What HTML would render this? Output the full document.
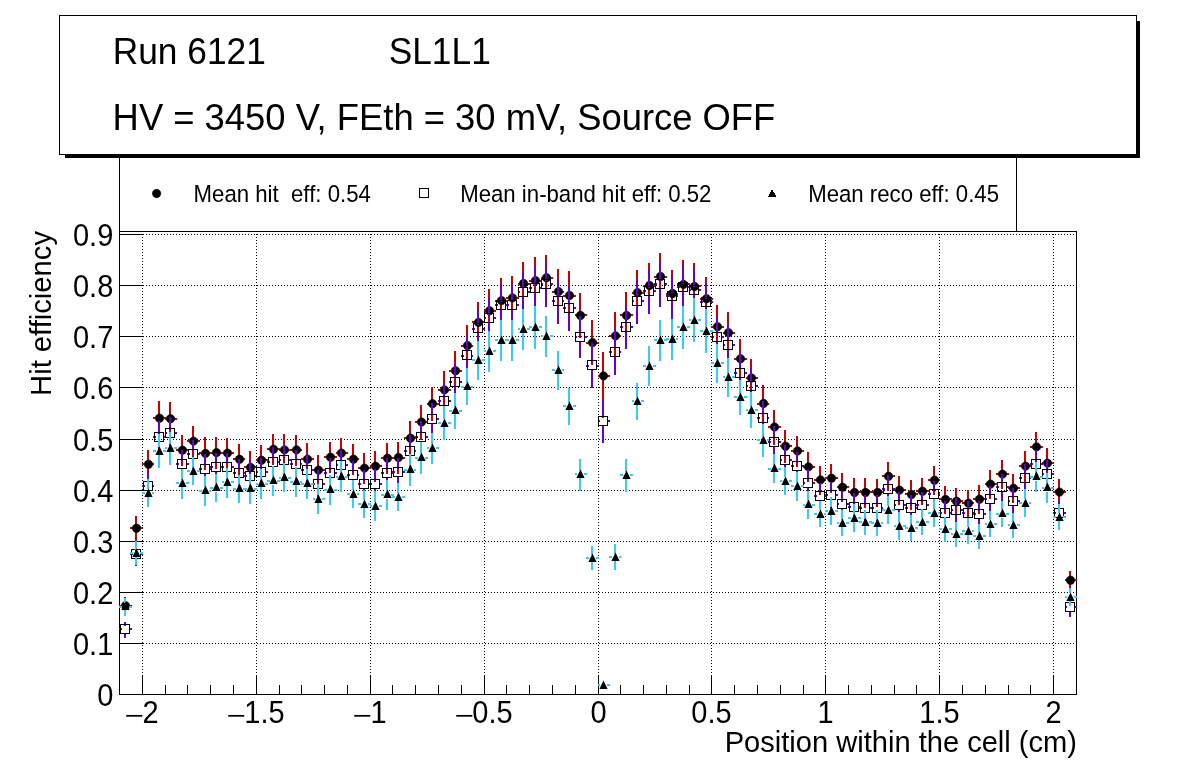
<!DOCTYPE html>
<html lang="en"><head><meta charset="utf-8"><title>Hit efficiency - Run 6121 SL1L1</title>
<style>html,body{margin:0;padding:0;background:#fff;}body{width:1196px;height:772px;overflow:hidden;}svg{display:block;}text{font-family:"Liberation Sans", Arial, Helvetica, sans-serif;fill:#000;}</style></head><body>
<svg width="1196" height="772" viewBox="0 0 1196 772">
<rect x="0" y="0" width="1196" height="772" fill="#fff"/>
<g shape-rendering="crispEdges" stroke="#000" stroke-width="1" fill="none">
<g stroke-dasharray="1 2">
<line x1="119.0" y1="643.5" x2="1076.0" y2="643.5"/>
<line x1="119.0" y1="592.5" x2="1076.0" y2="592.5"/>
<line x1="119.0" y1="541.5" x2="1076.0" y2="541.5"/>
<line x1="119.0" y1="490.5" x2="1076.0" y2="490.5"/>
<line x1="119.0" y1="439.5" x2="1076.0" y2="439.5"/>
<line x1="119.0" y1="387.5" x2="1076.0" y2="387.5"/>
<line x1="119.0" y1="336.5" x2="1076.0" y2="336.5"/>
<line x1="119.0" y1="285.5" x2="1076.0" y2="285.5"/>
<line x1="119.0" y1="234.5" x2="1076.0" y2="234.5"/>
<line x1="142.5" y1="231.0" x2="142.5" y2="694.0"/>
<line x1="256.5" y1="231.0" x2="256.5" y2="694.0"/>
<line x1="370.5" y1="231.0" x2="370.5" y2="694.0"/>
<line x1="484.5" y1="231.0" x2="484.5" y2="694.0"/>
<line x1="598.5" y1="231.0" x2="598.5" y2="694.0"/>
<line x1="711.5" y1="231.0" x2="711.5" y2="694.0"/>
<line x1="825.5" y1="231.0" x2="825.5" y2="694.0"/>
<line x1="939.5" y1="231.0" x2="939.5" y2="694.0"/>
<line x1="1053.5" y1="231.0" x2="1053.5" y2="694.0"/>
</g>
</g>
<g shape-rendering="crispEdges" stroke="#000" stroke-width="1" fill="none">
<line x1="119.5" y1="150" x2="119.5" y2="231.5"/>
<line x1="1016.5" y1="150" x2="1016.5" y2="231.5"/>
<rect x="119.5" y="231.5" width="957.0" height="463.0"/>
<line x1="119.5" y1="643.5" x2="142.5" y2="643.5"/>
<line x1="119.5" y1="592.5" x2="142.5" y2="592.5"/>
<line x1="119.5" y1="541.5" x2="142.5" y2="541.5"/>
<line x1="119.5" y1="490.5" x2="142.5" y2="490.5"/>
<line x1="119.5" y1="439.5" x2="142.5" y2="439.5"/>
<line x1="119.5" y1="387.5" x2="142.5" y2="387.5"/>
<line x1="119.5" y1="336.5" x2="142.5" y2="336.5"/>
<line x1="119.5" y1="285.5" x2="142.5" y2="285.5"/>
<line x1="119.5" y1="234.5" x2="142.5" y2="234.5"/>
<line x1="142.5" y1="694.5" x2="142.5" y2="675.0"/>
<line x1="165.5" y1="694.5" x2="165.5" y2="685.0"/>
<line x1="187.5" y1="694.5" x2="187.5" y2="685.0"/>
<line x1="210.5" y1="694.5" x2="210.5" y2="685.0"/>
<line x1="233.5" y1="694.5" x2="233.5" y2="685.0"/>
<line x1="256.5" y1="694.5" x2="256.5" y2="675.0"/>
<line x1="279.5" y1="694.5" x2="279.5" y2="685.0"/>
<line x1="301.5" y1="694.5" x2="301.5" y2="685.0"/>
<line x1="324.5" y1="694.5" x2="324.5" y2="685.0"/>
<line x1="347.5" y1="694.5" x2="347.5" y2="685.0"/>
<line x1="370.5" y1="694.5" x2="370.5" y2="675.0"/>
<line x1="392.5" y1="694.5" x2="392.5" y2="685.0"/>
<line x1="415.5" y1="694.5" x2="415.5" y2="685.0"/>
<line x1="438.5" y1="694.5" x2="438.5" y2="685.0"/>
<line x1="461.5" y1="694.5" x2="461.5" y2="685.0"/>
<line x1="484.5" y1="694.5" x2="484.5" y2="675.0"/>
<line x1="506.5" y1="694.5" x2="506.5" y2="685.0"/>
<line x1="529.5" y1="694.5" x2="529.5" y2="685.0"/>
<line x1="552.5" y1="694.5" x2="552.5" y2="685.0"/>
<line x1="575.5" y1="694.5" x2="575.5" y2="685.0"/>
<line x1="598.5" y1="694.5" x2="598.5" y2="675.0"/>
<line x1="620.5" y1="694.5" x2="620.5" y2="685.0"/>
<line x1="643.5" y1="694.5" x2="643.5" y2="685.0"/>
<line x1="666.5" y1="694.5" x2="666.5" y2="685.0"/>
<line x1="689.5" y1="694.5" x2="689.5" y2="685.0"/>
<line x1="711.5" y1="694.5" x2="711.5" y2="675.0"/>
<line x1="734.5" y1="694.5" x2="734.5" y2="685.0"/>
<line x1="757.5" y1="694.5" x2="757.5" y2="685.0"/>
<line x1="780.5" y1="694.5" x2="780.5" y2="685.0"/>
<line x1="803.5" y1="694.5" x2="803.5" y2="685.0"/>
<line x1="825.5" y1="694.5" x2="825.5" y2="675.0"/>
<line x1="848.5" y1="694.5" x2="848.5" y2="685.0"/>
<line x1="871.5" y1="694.5" x2="871.5" y2="685.0"/>
<line x1="894.5" y1="694.5" x2="894.5" y2="685.0"/>
<line x1="916.5" y1="694.5" x2="916.5" y2="685.0"/>
<line x1="939.5" y1="694.5" x2="939.5" y2="675.0"/>
<line x1="962.5" y1="694.5" x2="962.5" y2="685.0"/>
<line x1="985.5" y1="694.5" x2="985.5" y2="685.0"/>
<line x1="1008.5" y1="694.5" x2="1008.5" y2="685.0"/>
<line x1="1030.5" y1="694.5" x2="1030.5" y2="685.0"/>
<line x1="1053.5" y1="694.5" x2="1053.5" y2="675.0"/>
</g>
<clipPath id="fc"><rect x="119.0" y="231.0" width="958.0" height="464.0"/></clipPath>
<g clip-path="url(#fc)">
<g shape-rendering="crispEdges" fill="#cc0000">
<rect x="124" y="597.4" width="2" height="4.9"/>
<rect x="124" y="609.5" width="2" height="4.9"/>
<rect x="119" y="605" width="3" height="2"/>
<rect x="129" y="605" width="3" height="2"/>
<rect x="135" y="515.6" width="2" height="9.2"/>
<rect x="135" y="532.0" width="2" height="9.2"/>
<rect x="130" y="527" width="3" height="2"/>
<rect x="140" y="527" width="3" height="2"/>
<rect x="147" y="449.9" width="2" height="11.0"/>
<rect x="147" y="468.2" width="2" height="11.0"/>
<rect x="142" y="463" width="3" height="2"/>
<rect x="152" y="463" width="2" height="2"/>
<rect x="158" y="400.9" width="2" height="13.9"/>
<rect x="158" y="422.1" width="2" height="13.9"/>
<rect x="153" y="417" width="3" height="2"/>
<rect x="163" y="417" width="3" height="2"/>
<rect x="169" y="401.9" width="2" height="13.6"/>
<rect x="169" y="422.7" width="2" height="13.6"/>
<rect x="165" y="418" width="2" height="2"/>
<rect x="174" y="418" width="3" height="2"/>
<rect x="181" y="434.9" width="2" height="11.9"/>
<rect x="181" y="454.1" width="2" height="11.9"/>
<rect x="176" y="449" width="3" height="2"/>
<rect x="186" y="449" width="3" height="2"/>
<rect x="192" y="426.1" width="2" height="11.6"/>
<rect x="192" y="444.9" width="2" height="11.6"/>
<rect x="187" y="440" width="3" height="2"/>
<rect x="197" y="440" width="3" height="2"/>
<rect x="204" y="437.0" width="2" height="13.0"/>
<rect x="204" y="457.3" width="2" height="13.0"/>
<rect x="199" y="452" width="3" height="2"/>
<rect x="209" y="452" width="2" height="2"/>
<rect x="215" y="437.0" width="2" height="12.2"/>
<rect x="215" y="456.4" width="2" height="12.2"/>
<rect x="210" y="452" width="3" height="2"/>
<rect x="220" y="452" width="3" height="2"/>
<rect x="226" y="437.9" width="2" height="11.8"/>
<rect x="226" y="456.9" width="2" height="11.8"/>
<rect x="222" y="452" width="2" height="2"/>
<rect x="231" y="452" width="3" height="2"/>
<rect x="238" y="444.2" width="2" height="11.8"/>
<rect x="238" y="463.1" width="2" height="11.8"/>
<rect x="233" y="458" width="3" height="2"/>
<rect x="243" y="458" width="2" height="2"/>
<rect x="249" y="451.1" width="2" height="13.0"/>
<rect x="249" y="471.3" width="2" height="13.0"/>
<rect x="244" y="466" width="3" height="2"/>
<rect x="254" y="466" width="3" height="2"/>
<rect x="260" y="444.9" width="2" height="11.9"/>
<rect x="260" y="464.0" width="2" height="11.9"/>
<rect x="256" y="459" width="2" height="2"/>
<rect x="265" y="459" width="3" height="2"/>
<rect x="272" y="434.0" width="2" height="12.0"/>
<rect x="272" y="453.2" width="2" height="12.0"/>
<rect x="267" y="448" width="3" height="2"/>
<rect x="277" y="448" width="3" height="2"/>
<rect x="283" y="434.0" width="2" height="12.6"/>
<rect x="283" y="453.8" width="2" height="12.6"/>
<rect x="279" y="449" width="2" height="2"/>
<rect x="288" y="449" width="3" height="2"/>
<rect x="295" y="434.8" width="2" height="11.8"/>
<rect x="295" y="453.8" width="2" height="11.8"/>
<rect x="290" y="449" width="3" height="2"/>
<rect x="300" y="449" width="2" height="2"/>
<rect x="306" y="442.8" width="2" height="13.1"/>
<rect x="306" y="463.1" width="2" height="13.1"/>
<rect x="301" y="458" width="3" height="2"/>
<rect x="311" y="458" width="3" height="2"/>
<rect x="317" y="454.9" width="2" height="11.9"/>
<rect x="317" y="474.0" width="2" height="11.9"/>
<rect x="313" y="469" width="2" height="2"/>
<rect x="322" y="469" width="3" height="2"/>
<rect x="329" y="441.9" width="2" height="12.0"/>
<rect x="329" y="461.1" width="2" height="12.0"/>
<rect x="324" y="456" width="3" height="2"/>
<rect x="334" y="456" width="3" height="2"/>
<rect x="340" y="437.9" width="2" height="11.9"/>
<rect x="340" y="457.0" width="2" height="11.9"/>
<rect x="336" y="452" width="2" height="2"/>
<rect x="345" y="452" width="3" height="2"/>
<rect x="352" y="444.0" width="2" height="11.9"/>
<rect x="352" y="463.1" width="2" height="11.9"/>
<rect x="347" y="458" width="3" height="2"/>
<rect x="357" y="458" width="2" height="2"/>
<rect x="363" y="452.8" width="2" height="12.0"/>
<rect x="363" y="472.0" width="2" height="12.0"/>
<rect x="358" y="467" width="3" height="2"/>
<rect x="368" y="467" width="3" height="2"/>
<rect x="374" y="450.8" width="2" height="12.2"/>
<rect x="374" y="470.1" width="2" height="12.2"/>
<rect x="370" y="465" width="2" height="2"/>
<rect x="379" y="465" width="3" height="2"/>
<rect x="386" y="442.8" width="2" height="12.0"/>
<rect x="386" y="462.0" width="2" height="12.0"/>
<rect x="381" y="457" width="3" height="2"/>
<rect x="391" y="457" width="3" height="2"/>
<rect x="397" y="441.7" width="2" height="12.4"/>
<rect x="397" y="461.4" width="2" height="12.4"/>
<rect x="392" y="457" width="3" height="2"/>
<rect x="402" y="457" width="3" height="2"/>
<rect x="409" y="420.9" width="2" height="13.9"/>
<rect x="409" y="442.0" width="2" height="13.9"/>
<rect x="404" y="437" width="3" height="2"/>
<rect x="414" y="437" width="2" height="2"/>
<rect x="420" y="404.8" width="2" height="13.8"/>
<rect x="420" y="425.9" width="2" height="13.8"/>
<rect x="415" y="421" width="3" height="2"/>
<rect x="425" y="421" width="3" height="2"/>
<rect x="431" y="386.5" width="2" height="13.8"/>
<rect x="431" y="407.5" width="2" height="13.8"/>
<rect x="427" y="403" width="2" height="2"/>
<rect x="436" y="403" width="3" height="2"/>
<rect x="443" y="371.4" width="2" height="15.2"/>
<rect x="443" y="393.8" width="2" height="15.2"/>
<rect x="438" y="389" width="3" height="2"/>
<rect x="448" y="389" width="3" height="2"/>
<rect x="454" y="351.4" width="2" height="16.0"/>
<rect x="454" y="374.7" width="2" height="16.0"/>
<rect x="449" y="370" width="3" height="2"/>
<rect x="459" y="370" width="3" height="2"/>
<rect x="466" y="325.4" width="2" height="16.9"/>
<rect x="466" y="349.5" width="2" height="16.9"/>
<rect x="461" y="345" width="3" height="2"/>
<rect x="471" y="345" width="2" height="2"/>
<rect x="477" y="301.6" width="2" height="17.4"/>
<rect x="477" y="326.2" width="2" height="17.4"/>
<rect x="472" y="321" width="3" height="2"/>
<rect x="482" y="321" width="3" height="2"/>
<rect x="488" y="289.3" width="2" height="18.1"/>
<rect x="488" y="314.6" width="2" height="18.1"/>
<rect x="484" y="310" width="2" height="2"/>
<rect x="493" y="310" width="3" height="2"/>
<rect x="500" y="278.2" width="2" height="19.0"/>
<rect x="500" y="304.4" width="2" height="19.0"/>
<rect x="495" y="300" width="3" height="2"/>
<rect x="505" y="300" width="2" height="2"/>
<rect x="511" y="276.2" width="2" height="18.3"/>
<rect x="511" y="301.7" width="2" height="18.3"/>
<rect x="506" y="297" width="3" height="2"/>
<rect x="516" y="297" width="3" height="2"/>
<rect x="522" y="262.1" width="2" height="18.1"/>
<rect x="522" y="287.4" width="2" height="18.1"/>
<rect x="518" y="283" width="2" height="2"/>
<rect x="527" y="283" width="3" height="2"/>
<rect x="534" y="257.1" width="2" height="20.2"/>
<rect x="534" y="284.5" width="2" height="20.2"/>
<rect x="529" y="280" width="3" height="2"/>
<rect x="539" y="280" width="3" height="2"/>
<rect x="545" y="255.1" width="2" height="19.3"/>
<rect x="545" y="281.6" width="2" height="19.3"/>
<rect x="541" y="277" width="2" height="2"/>
<rect x="550" y="277" width="3" height="2"/>
<rect x="557" y="269.2" width="2" height="19.1"/>
<rect x="557" y="295.5" width="2" height="19.1"/>
<rect x="552" y="291" width="3" height="2"/>
<rect x="562" y="291" width="2" height="2"/>
<rect x="568" y="271.2" width="2" height="21.0"/>
<rect x="568" y="299.4" width="2" height="21.0"/>
<rect x="563" y="295" width="3" height="2"/>
<rect x="573" y="295" width="3" height="2"/>
<rect x="579" y="293.2" width="2" height="18.9"/>
<rect x="579" y="319.3" width="2" height="18.9"/>
<rect x="575" y="314" width="2" height="2"/>
<rect x="584" y="314" width="3" height="2"/>
<rect x="591" y="320.4" width="2" height="18.8"/>
<rect x="591" y="346.4" width="2" height="18.8"/>
<rect x="586" y="342" width="3" height="2"/>
<rect x="596" y="342" width="3" height="2"/>
<rect x="602" y="352.4" width="2" height="20.1"/>
<rect x="602" y="379.7" width="2" height="20.1"/>
<rect x="598" y="375" width="2" height="2"/>
<rect x="607" y="375" width="3" height="2"/>
<rect x="614" y="312.2" width="2" height="20.3"/>
<rect x="614" y="339.7" width="2" height="20.3"/>
<rect x="609" y="335" width="3" height="2"/>
<rect x="619" y="335" width="2" height="2"/>
<rect x="625" y="292.3" width="2" height="19.8"/>
<rect x="625" y="319.3" width="2" height="19.8"/>
<rect x="620" y="314" width="3" height="2"/>
<rect x="630" y="314" width="3" height="2"/>
<rect x="636" y="270.3" width="2" height="18.9"/>
<rect x="636" y="296.5" width="2" height="18.9"/>
<rect x="632" y="292" width="2" height="2"/>
<rect x="641" y="292" width="3" height="2"/>
<rect x="648" y="263.3" width="2" height="18.9"/>
<rect x="648" y="289.4" width="2" height="18.9"/>
<rect x="643" y="285" width="3" height="2"/>
<rect x="653" y="285" width="3" height="2"/>
<rect x="659" y="253.2" width="2" height="20.0"/>
<rect x="659" y="280.4" width="2" height="20.0"/>
<rect x="654" y="276" width="3" height="2"/>
<rect x="664" y="276" width="3" height="2"/>
<rect x="671" y="270.3" width="2" height="19.8"/>
<rect x="671" y="297.4" width="2" height="19.8"/>
<rect x="666" y="293" width="3" height="2"/>
<rect x="676" y="293" width="2" height="2"/>
<rect x="682" y="260.3" width="2" height="20.7"/>
<rect x="682" y="288.2" width="2" height="20.7"/>
<rect x="677" y="283" width="3" height="2"/>
<rect x="687" y="283" width="3" height="2"/>
<rect x="693" y="263.3" width="2" height="19.8"/>
<rect x="693" y="290.3" width="2" height="19.8"/>
<rect x="689" y="285" width="2" height="2"/>
<rect x="698" y="285" width="3" height="2"/>
<rect x="705" y="277.4" width="2" height="17.9"/>
<rect x="705" y="302.5" width="2" height="17.9"/>
<rect x="700" y="298" width="3" height="2"/>
<rect x="710" y="298" width="3" height="2"/>
<rect x="716" y="305.2" width="2" height="18.1"/>
<rect x="716" y="330.5" width="2" height="18.1"/>
<rect x="711" y="326" width="3" height="2"/>
<rect x="721" y="326" width="3" height="2"/>
<rect x="727" y="312.2" width="2" height="17.2"/>
<rect x="727" y="336.6" width="2" height="17.2"/>
<rect x="723" y="332" width="2" height="2"/>
<rect x="732" y="332" width="3" height="2"/>
<rect x="739" y="338.5" width="2" height="17.0"/>
<rect x="739" y="362.6" width="2" height="17.0"/>
<rect x="734" y="358" width="3" height="2"/>
<rect x="744" y="358" width="3" height="2"/>
<rect x="750" y="358.5" width="2" height="16.1"/>
<rect x="750" y="381.8" width="2" height="16.1"/>
<rect x="746" y="377" width="2" height="2"/>
<rect x="755" y="377" width="3" height="2"/>
<rect x="762" y="385.3" width="2" height="14.9"/>
<rect x="762" y="407.4" width="2" height="14.9"/>
<rect x="757" y="403" width="3" height="2"/>
<rect x="767" y="403" width="2" height="2"/>
<rect x="773" y="409.8" width="2" height="13.8"/>
<rect x="773" y="430.9" width="2" height="13.8"/>
<rect x="768" y="426" width="3" height="2"/>
<rect x="778" y="426" width="3" height="2"/>
<rect x="784" y="429.8" width="2" height="13.0"/>
<rect x="784" y="450.0" width="2" height="13.0"/>
<rect x="780" y="445" width="2" height="2"/>
<rect x="789" y="445" width="3" height="2"/>
<rect x="796" y="435.8" width="2" height="11.8"/>
<rect x="796" y="454.9" width="2" height="11.8"/>
<rect x="791" y="450" width="3" height="2"/>
<rect x="801" y="450" width="3" height="2"/>
<rect x="807" y="451.9" width="2" height="11.6"/>
<rect x="807" y="470.7" width="2" height="11.6"/>
<rect x="803" y="466" width="2" height="2"/>
<rect x="812" y="466" width="3" height="2"/>
<rect x="819" y="465.7" width="2" height="10.8"/>
<rect x="819" y="483.8" width="2" height="10.8"/>
<rect x="814" y="479" width="3" height="2"/>
<rect x="824" y="479" width="2" height="2"/>
<rect x="830" y="463.9" width="2" height="10.9"/>
<rect x="830" y="482.0" width="2" height="10.9"/>
<rect x="825" y="477" width="3" height="2"/>
<rect x="835" y="477" width="3" height="2"/>
<rect x="841" y="472.8" width="2" height="11.1"/>
<rect x="841" y="491.1" width="2" height="11.1"/>
<rect x="837" y="486" width="2" height="2"/>
<rect x="846" y="486" width="3" height="2"/>
<rect x="853" y="477.9" width="2" height="11.3"/>
<rect x="853" y="496.3" width="2" height="11.3"/>
<rect x="848" y="491" width="3" height="2"/>
<rect x="858" y="491" width="3" height="2"/>
<rect x="864" y="477.9" width="2" height="11.3"/>
<rect x="864" y="496.3" width="2" height="11.3"/>
<rect x="859" y="491" width="3" height="2"/>
<rect x="869" y="491" width="3" height="2"/>
<rect x="876" y="478.9" width="2" height="10.3"/>
<rect x="876" y="496.3" width="2" height="10.3"/>
<rect x="871" y="491" width="3" height="2"/>
<rect x="881" y="491" width="2" height="2"/>
<rect x="887" y="462.0" width="2" height="11.0"/>
<rect x="887" y="480.1" width="2" height="11.0"/>
<rect x="882" y="475" width="3" height="2"/>
<rect x="892" y="475" width="3" height="2"/>
<rect x="898" y="476.0" width="2" height="10.8"/>
<rect x="898" y="494.0" width="2" height="10.8"/>
<rect x="894" y="489" width="2" height="2"/>
<rect x="903" y="489" width="3" height="2"/>
<rect x="910" y="479.9" width="2" height="11.3"/>
<rect x="910" y="498.3" width="2" height="11.3"/>
<rect x="905" y="493" width="3" height="2"/>
<rect x="915" y="493" width="3" height="2"/>
<rect x="921" y="477.9" width="2" height="10.1"/>
<rect x="921" y="495.2" width="2" height="10.1"/>
<rect x="916" y="490" width="3" height="2"/>
<rect x="926" y="490" width="3" height="2"/>
<rect x="933" y="465.9" width="2" height="10.9"/>
<rect x="933" y="484.0" width="2" height="10.9"/>
<rect x="928" y="479" width="3" height="2"/>
<rect x="938" y="479" width="2" height="2"/>
<rect x="944" y="485.8" width="2" height="10.3"/>
<rect x="944" y="503.3" width="2" height="10.3"/>
<rect x="939" y="498" width="3" height="2"/>
<rect x="949" y="498" width="3" height="2"/>
<rect x="955" y="488.0" width="2" height="9.9"/>
<rect x="955" y="505.1" width="2" height="9.9"/>
<rect x="951" y="500" width="2" height="2"/>
<rect x="960" y="500" width="3" height="2"/>
<rect x="967" y="490.3" width="2" height="9.5"/>
<rect x="967" y="507.0" width="2" height="9.5"/>
<rect x="962" y="502" width="3" height="2"/>
<rect x="972" y="502" width="2" height="2"/>
<rect x="978" y="485.1" width="2" height="10.8"/>
<rect x="978" y="503.0" width="2" height="10.8"/>
<rect x="973" y="498" width="3" height="2"/>
<rect x="983" y="498" width="3" height="2"/>
<rect x="989" y="469.7" width="2" height="11.1"/>
<rect x="989" y="488.0" width="2" height="11.1"/>
<rect x="985" y="483" width="2" height="2"/>
<rect x="994" y="483" width="3" height="2"/>
<rect x="1001" y="459.7" width="2" height="11.1"/>
<rect x="1001" y="478.0" width="2" height="11.1"/>
<rect x="996" y="473" width="3" height="2"/>
<rect x="1006" y="473" width="3" height="2"/>
<rect x="1012" y="473.8" width="2" height="11.1"/>
<rect x="1012" y="492.1" width="2" height="11.1"/>
<rect x="1008" y="487" width="2" height="2"/>
<rect x="1017" y="487" width="3" height="2"/>
<rect x="1024" y="451.0" width="2" height="11.7"/>
<rect x="1024" y="469.9" width="2" height="11.7"/>
<rect x="1019" y="465" width="3" height="2"/>
<rect x="1029" y="465" width="2" height="2"/>
<rect x="1035" y="431.9" width="2" height="11.6"/>
<rect x="1035" y="450.7" width="2" height="11.6"/>
<rect x="1030" y="446" width="3" height="2"/>
<rect x="1040" y="446" width="3" height="2"/>
<rect x="1046" y="447.8" width="2" height="11.9"/>
<rect x="1046" y="466.9" width="2" height="11.9"/>
<rect x="1042" y="462" width="2" height="2"/>
<rect x="1051" y="462" width="3" height="2"/>
<rect x="1058" y="478.9" width="2" height="9.9"/>
<rect x="1058" y="496.0" width="2" height="9.9"/>
<rect x="1053" y="491" width="3" height="2"/>
<rect x="1063" y="491" width="3" height="2"/>
<rect x="1069" y="571.0" width="2" height="5.9"/>
<rect x="1069" y="584.1" width="2" height="5.9"/>
<rect x="1065" y="579" width="2" height="2"/>
<rect x="1074" y="579" width="3" height="2"/>
</g>
<g fill="#000" stroke="#000" stroke-width="1" stroke-opacity="0.6">
<circle cx="125.5" cy="605.7" r="4.2"/>
<circle cx="136.5" cy="528.2" r="4.2"/>
<circle cx="148.5" cy="464.3" r="4.2"/>
<circle cx="159.5" cy="418.2" r="4.2"/>
<circle cx="170.5" cy="418.8" r="4.2"/>
<circle cx="182.5" cy="450.2" r="4.2"/>
<circle cx="193.5" cy="441.1" r="4.2"/>
<circle cx="205.5" cy="453.4" r="4.2"/>
<circle cx="216.5" cy="452.6" r="4.2"/>
<circle cx="227.5" cy="453.1" r="4.2"/>
<circle cx="239.5" cy="459.3" r="4.2"/>
<circle cx="250.5" cy="467.5" r="4.2"/>
<circle cx="261.5" cy="460.2" r="4.2"/>
<circle cx="273.5" cy="449.3" r="4.2"/>
<circle cx="284.5" cy="449.9" r="4.2"/>
<circle cx="296.5" cy="449.9" r="4.2"/>
<circle cx="307.5" cy="459.2" r="4.2"/>
<circle cx="318.5" cy="470.1" r="4.2"/>
<circle cx="330.5" cy="457.2" r="4.2"/>
<circle cx="341.5" cy="453.1" r="4.2"/>
<circle cx="353.5" cy="459.2" r="4.2"/>
<circle cx="364.5" cy="468.1" r="4.2"/>
<circle cx="375.5" cy="466.3" r="4.2"/>
<circle cx="387.5" cy="458.2" r="4.2"/>
<circle cx="398.5" cy="457.5" r="4.2"/>
<circle cx="410.5" cy="438.2" r="4.2"/>
<circle cx="421.5" cy="422.0" r="4.2"/>
<circle cx="432.5" cy="403.7" r="4.2"/>
<circle cx="444.5" cy="389.9" r="4.2"/>
<circle cx="455.5" cy="370.8" r="4.2"/>
<circle cx="467.5" cy="345.6" r="4.2"/>
<circle cx="478.5" cy="322.4" r="4.2"/>
<circle cx="489.5" cy="310.8" r="4.2"/>
<circle cx="501.5" cy="300.6" r="4.2"/>
<circle cx="512.5" cy="297.9" r="4.2"/>
<circle cx="523.5" cy="283.5" r="4.2"/>
<circle cx="535.5" cy="280.6" r="4.2"/>
<circle cx="546.5" cy="277.7" r="4.2"/>
<circle cx="558.5" cy="291.6" r="4.2"/>
<circle cx="569.5" cy="295.5" r="4.2"/>
<circle cx="580.5" cy="315.5" r="4.2"/>
<circle cx="592.5" cy="342.6" r="4.2"/>
<circle cx="603.5" cy="375.9" r="4.2"/>
<circle cx="615.5" cy="335.9" r="4.2"/>
<circle cx="626.5" cy="315.5" r="4.2"/>
<circle cx="637.5" cy="292.6" r="4.2"/>
<circle cx="649.5" cy="285.5" r="4.2"/>
<circle cx="660.5" cy="276.5" r="4.2"/>
<circle cx="672.5" cy="293.5" r="4.2"/>
<circle cx="683.5" cy="284.4" r="4.2"/>
<circle cx="694.5" cy="286.5" r="4.2"/>
<circle cx="706.5" cy="298.7" r="4.2"/>
<circle cx="717.5" cy="326.7" r="4.2"/>
<circle cx="728.5" cy="332.7" r="4.2"/>
<circle cx="740.5" cy="358.8" r="4.2"/>
<circle cx="751.5" cy="378.0" r="4.2"/>
<circle cx="763.5" cy="403.5" r="4.2"/>
<circle cx="774.5" cy="427.0" r="4.2"/>
<circle cx="785.5" cy="446.2" r="4.2"/>
<circle cx="797.5" cy="451.0" r="4.2"/>
<circle cx="808.5" cy="466.9" r="4.2"/>
<circle cx="820.5" cy="479.9" r="4.2"/>
<circle cx="831.5" cy="478.2" r="4.2"/>
<circle cx="842.5" cy="487.2" r="4.2"/>
<circle cx="854.5" cy="492.5" r="4.2"/>
<circle cx="865.5" cy="492.5" r="4.2"/>
<circle cx="877.5" cy="492.5" r="4.2"/>
<circle cx="888.5" cy="476.3" r="4.2"/>
<circle cx="899.5" cy="490.1" r="4.2"/>
<circle cx="911.5" cy="494.5" r="4.2"/>
<circle cx="922.5" cy="491.3" r="4.2"/>
<circle cx="934.5" cy="480.2" r="4.2"/>
<circle cx="945.5" cy="499.5" r="4.2"/>
<circle cx="956.5" cy="501.2" r="4.2"/>
<circle cx="968.5" cy="503.2" r="4.2"/>
<circle cx="979.5" cy="499.2" r="4.2"/>
<circle cx="990.5" cy="484.1" r="4.2"/>
<circle cx="1002.5" cy="474.1" r="4.2"/>
<circle cx="1013.5" cy="488.2" r="4.2"/>
<circle cx="1025.5" cy="466.1" r="4.2"/>
<circle cx="1036.5" cy="446.9" r="4.2"/>
<circle cx="1047.5" cy="463.1" r="4.2"/>
<circle cx="1059.5" cy="492.1" r="4.2"/>
<circle cx="1070.5" cy="580.3" r="4.2"/>
</g>
<g shape-rendering="crispEdges" fill="#6600cc">
<rect x="124" y="621.6" width="2" height="4.5"/>
<rect x="124" y="633.3" width="2" height="4.5"/>
<rect x="119" y="628" width="3" height="2"/>
<rect x="129" y="628" width="3" height="2"/>
<rect x="135" y="542.7" width="2" height="8.1"/>
<rect x="135" y="558.0" width="2" height="8.1"/>
<rect x="130" y="553" width="3" height="2"/>
<rect x="140" y="553" width="3" height="2"/>
<rect x="147" y="471.9" width="2" height="10.6"/>
<rect x="147" y="489.6" width="2" height="10.6"/>
<rect x="142" y="485" width="3" height="2"/>
<rect x="152" y="485" width="2" height="2"/>
<rect x="158" y="420.8" width="2" height="13.2"/>
<rect x="158" y="441.1" width="2" height="13.2"/>
<rect x="153" y="436" width="3" height="2"/>
<rect x="163" y="436" width="3" height="2"/>
<rect x="169" y="416.8" width="2" height="12.9"/>
<rect x="169" y="437.0" width="2" height="12.9"/>
<rect x="165" y="432" width="2" height="2"/>
<rect x="174" y="432" width="3" height="2"/>
<rect x="181" y="449.7" width="2" height="11.3"/>
<rect x="181" y="468.2" width="2" height="11.3"/>
<rect x="176" y="463" width="3" height="2"/>
<rect x="186" y="463" width="3" height="2"/>
<rect x="192" y="440.0" width="2" height="10.8"/>
<rect x="192" y="458.1" width="2" height="10.8"/>
<rect x="187" y="453" width="3" height="2"/>
<rect x="197" y="453" width="3" height="2"/>
<rect x="204" y="454.1" width="2" height="11.8"/>
<rect x="204" y="473.1" width="2" height="11.8"/>
<rect x="199" y="468" width="3" height="2"/>
<rect x="209" y="468" width="2" height="2"/>
<rect x="215" y="452.9" width="2" height="10.9"/>
<rect x="215" y="471.0" width="2" height="10.9"/>
<rect x="210" y="466" width="3" height="2"/>
<rect x="220" y="466" width="3" height="2"/>
<rect x="226" y="452.8" width="2" height="11.3"/>
<rect x="226" y="471.3" width="2" height="11.3"/>
<rect x="222" y="466" width="2" height="2"/>
<rect x="231" y="466" width="3" height="2"/>
<rect x="238" y="459.3" width="2" height="10.7"/>
<rect x="238" y="477.2" width="2" height="10.7"/>
<rect x="233" y="472" width="3" height="2"/>
<rect x="243" y="472" width="2" height="2"/>
<rect x="249" y="461.1" width="2" height="11.8"/>
<rect x="249" y="480.1" width="2" height="11.8"/>
<rect x="244" y="475" width="3" height="2"/>
<rect x="254" y="475" width="3" height="2"/>
<rect x="260" y="457.7" width="2" height="11.3"/>
<rect x="260" y="476.1" width="2" height="11.3"/>
<rect x="256" y="471" width="2" height="2"/>
<rect x="265" y="471" width="3" height="2"/>
<rect x="272" y="447.3" width="2" height="11.2"/>
<rect x="272" y="465.8" width="2" height="11.2"/>
<rect x="267" y="461" width="3" height="2"/>
<rect x="277" y="461" width="3" height="2"/>
<rect x="283" y="444.9" width="2" height="11.5"/>
<rect x="283" y="463.7" width="2" height="11.5"/>
<rect x="279" y="459" width="2" height="2"/>
<rect x="288" y="459" width="3" height="2"/>
<rect x="295" y="449.6" width="2" height="11.1"/>
<rect x="295" y="467.9" width="2" height="11.1"/>
<rect x="290" y="463" width="3" height="2"/>
<rect x="300" y="463" width="2" height="2"/>
<rect x="306" y="454.8" width="2" height="11.8"/>
<rect x="306" y="473.8" width="2" height="11.8"/>
<rect x="301" y="469" width="3" height="2"/>
<rect x="311" y="469" width="3" height="2"/>
<rect x="317" y="469.5" width="2" height="11.2"/>
<rect x="317" y="487.9" width="2" height="11.2"/>
<rect x="313" y="483" width="2" height="2"/>
<rect x="322" y="483" width="3" height="2"/>
<rect x="329" y="458.1" width="2" height="11.4"/>
<rect x="329" y="476.7" width="2" height="11.4"/>
<rect x="324" y="472" width="3" height="2"/>
<rect x="334" y="472" width="3" height="2"/>
<rect x="340" y="450.1" width="2" height="11.7"/>
<rect x="340" y="468.9" width="2" height="11.7"/>
<rect x="336" y="464" width="2" height="2"/>
<rect x="345" y="464" width="3" height="2"/>
<rect x="352" y="461.1" width="2" height="10.7"/>
<rect x="352" y="479.0" width="2" height="10.7"/>
<rect x="347" y="474" width="3" height="2"/>
<rect x="357" y="474" width="2" height="2"/>
<rect x="363" y="469.9" width="2" height="10.8"/>
<rect x="363" y="487.9" width="2" height="10.8"/>
<rect x="358" y="483" width="3" height="2"/>
<rect x="368" y="483" width="3" height="2"/>
<rect x="374" y="469.4" width="2" height="11.3"/>
<rect x="374" y="487.9" width="2" height="11.3"/>
<rect x="370" y="483" width="2" height="2"/>
<rect x="379" y="483" width="3" height="2"/>
<rect x="386" y="458.2" width="2" height="11.3"/>
<rect x="386" y="476.7" width="2" height="11.3"/>
<rect x="381" y="472" width="3" height="2"/>
<rect x="391" y="472" width="3" height="2"/>
<rect x="397" y="457.9" width="2" height="10.9"/>
<rect x="397" y="476.0" width="2" height="10.9"/>
<rect x="392" y="471" width="3" height="2"/>
<rect x="402" y="471" width="3" height="2"/>
<rect x="409" y="434.9" width="2" height="12.8"/>
<rect x="409" y="454.9" width="2" height="12.8"/>
<rect x="404" y="450" width="3" height="2"/>
<rect x="414" y="450" width="2" height="2"/>
<rect x="420" y="421.2" width="2" height="12.8"/>
<rect x="420" y="441.2" width="2" height="12.8"/>
<rect x="415" y="436" width="3" height="2"/>
<rect x="425" y="436" width="3" height="2"/>
<rect x="431" y="402.9" width="2" height="12.6"/>
<rect x="431" y="422.7" width="2" height="12.6"/>
<rect x="427" y="418" width="2" height="2"/>
<rect x="436" y="418" width="3" height="2"/>
<rect x="443" y="383.5" width="2" height="14.2"/>
<rect x="443" y="404.9" width="2" height="14.2"/>
<rect x="438" y="400" width="3" height="2"/>
<rect x="448" y="400" width="3" height="2"/>
<rect x="454" y="363.6" width="2" height="14.8"/>
<rect x="454" y="385.6" width="2" height="14.8"/>
<rect x="449" y="381" width="3" height="2"/>
<rect x="459" y="381" width="3" height="2"/>
<rect x="466" y="336.7" width="2" height="15.6"/>
<rect x="466" y="359.5" width="2" height="15.6"/>
<rect x="461" y="355" width="3" height="2"/>
<rect x="471" y="355" width="2" height="2"/>
<rect x="477" y="308.8" width="2" height="16.5"/>
<rect x="477" y="332.4" width="2" height="16.5"/>
<rect x="472" y="328" width="3" height="2"/>
<rect x="482" y="328" width="3" height="2"/>
<rect x="488" y="297.7" width="2" height="17.3"/>
<rect x="488" y="322.2" width="2" height="17.3"/>
<rect x="484" y="317" width="2" height="2"/>
<rect x="493" y="317" width="3" height="2"/>
<rect x="500" y="284.4" width="2" height="17.8"/>
<rect x="500" y="309.3" width="2" height="17.8"/>
<rect x="495" y="304" width="3" height="2"/>
<rect x="505" y="304" width="2" height="2"/>
<rect x="511" y="283.9" width="2" height="17.4"/>
<rect x="511" y="308.5" width="2" height="17.4"/>
<rect x="506" y="304" width="3" height="2"/>
<rect x="516" y="304" width="3" height="2"/>
<rect x="522" y="271.7" width="2" height="17.3"/>
<rect x="522" y="296.2" width="2" height="17.3"/>
<rect x="518" y="291" width="2" height="2"/>
<rect x="527" y="291" width="3" height="2"/>
<rect x="534" y="266.2" width="2" height="18.9"/>
<rect x="534" y="292.3" width="2" height="18.9"/>
<rect x="529" y="287" width="3" height="2"/>
<rect x="539" y="287" width="3" height="2"/>
<rect x="545" y="262.2" width="2" height="18.8"/>
<rect x="545" y="288.2" width="2" height="18.8"/>
<rect x="541" y="283" width="2" height="2"/>
<rect x="550" y="283" width="3" height="2"/>
<rect x="557" y="278.9" width="2" height="19.2"/>
<rect x="557" y="305.2" width="2" height="19.2"/>
<rect x="552" y="300" width="3" height="2"/>
<rect x="562" y="300" width="2" height="2"/>
<rect x="568" y="286.1" width="2" height="18.9"/>
<rect x="568" y="312.3" width="2" height="18.9"/>
<rect x="563" y="307" width="3" height="2"/>
<rect x="573" y="307" width="3" height="2"/>
<rect x="579" y="315.5" width="2" height="17.9"/>
<rect x="579" y="340.5" width="2" height="17.9"/>
<rect x="575" y="336" width="2" height="2"/>
<rect x="584" y="336" width="3" height="2"/>
<rect x="591" y="343.4" width="2" height="18.9"/>
<rect x="591" y="369.5" width="2" height="18.9"/>
<rect x="586" y="365" width="3" height="2"/>
<rect x="596" y="365" width="3" height="2"/>
<rect x="602" y="399.5" width="2" height="18.1"/>
<rect x="602" y="424.8" width="2" height="18.1"/>
<rect x="598" y="420" width="2" height="2"/>
<rect x="607" y="420" width="3" height="2"/>
<rect x="614" y="328.7" width="2" height="19.7"/>
<rect x="614" y="355.6" width="2" height="19.7"/>
<rect x="609" y="351" width="3" height="2"/>
<rect x="619" y="351" width="2" height="2"/>
<rect x="625" y="305.9" width="2" height="18.1"/>
<rect x="625" y="331.2" width="2" height="18.1"/>
<rect x="620" y="326" width="3" height="2"/>
<rect x="630" y="326" width="3" height="2"/>
<rect x="636" y="279.3" width="2" height="18.7"/>
<rect x="636" y="305.2" width="2" height="18.7"/>
<rect x="632" y="300" width="2" height="2"/>
<rect x="641" y="300" width="3" height="2"/>
<rect x="648" y="269.4" width="2" height="18.7"/>
<rect x="648" y="295.3" width="2" height="18.7"/>
<rect x="643" y="290" width="3" height="2"/>
<rect x="653" y="290" width="3" height="2"/>
<rect x="659" y="262.2" width="2" height="18.8"/>
<rect x="659" y="288.2" width="2" height="18.8"/>
<rect x="654" y="283" width="3" height="2"/>
<rect x="664" y="283" width="3" height="2"/>
<rect x="671" y="274.7" width="2" height="18.4"/>
<rect x="671" y="300.3" width="2" height="18.4"/>
<rect x="666" y="295" width="3" height="2"/>
<rect x="676" y="295" width="2" height="2"/>
<rect x="682" y="265.8" width="2" height="18.1"/>
<rect x="682" y="291.2" width="2" height="18.1"/>
<rect x="677" y="286" width="3" height="2"/>
<rect x="687" y="286" width="3" height="2"/>
<rect x="693" y="268.7" width="2" height="18.4"/>
<rect x="693" y="294.3" width="2" height="18.4"/>
<rect x="689" y="289" width="2" height="2"/>
<rect x="698" y="289" width="3" height="2"/>
<rect x="705" y="281.7" width="2" height="17.2"/>
<rect x="705" y="306.1" width="2" height="17.2"/>
<rect x="700" y="301" width="3" height="2"/>
<rect x="710" y="301" width="3" height="2"/>
<rect x="716" y="316.6" width="2" height="16.8"/>
<rect x="716" y="340.5" width="2" height="16.8"/>
<rect x="711" y="336" width="3" height="2"/>
<rect x="721" y="336" width="3" height="2"/>
<rect x="727" y="324.9" width="2" height="16.4"/>
<rect x="727" y="348.5" width="2" height="16.4"/>
<rect x="723" y="344" width="2" height="2"/>
<rect x="732" y="344" width="3" height="2"/>
<rect x="739" y="354.3" width="2" height="15.1"/>
<rect x="739" y="376.6" width="2" height="15.1"/>
<rect x="734" y="372" width="3" height="2"/>
<rect x="744" y="372" width="3" height="2"/>
<rect x="750" y="367.7" width="2" height="14.8"/>
<rect x="750" y="389.7" width="2" height="14.8"/>
<rect x="746" y="385" width="2" height="2"/>
<rect x="755" y="385" width="3" height="2"/>
<rect x="762" y="400.8" width="2" height="13.6"/>
<rect x="762" y="421.6" width="2" height="13.6"/>
<rect x="757" y="417" width="3" height="2"/>
<rect x="767" y="417" width="2" height="2"/>
<rect x="773" y="426.2" width="2" height="12.1"/>
<rect x="773" y="445.6" width="2" height="12.1"/>
<rect x="768" y="441" width="3" height="2"/>
<rect x="778" y="441" width="3" height="2"/>
<rect x="784" y="444.9" width="2" height="11.6"/>
<rect x="784" y="463.7" width="2" height="11.6"/>
<rect x="780" y="459" width="2" height="2"/>
<rect x="789" y="459" width="3" height="2"/>
<rect x="796" y="451.6" width="2" height="11.1"/>
<rect x="796" y="469.9" width="2" height="11.1"/>
<rect x="791" y="465" width="3" height="2"/>
<rect x="801" y="465" width="3" height="2"/>
<rect x="807" y="469.2" width="2" height="10.5"/>
<rect x="807" y="486.9" width="2" height="10.5"/>
<rect x="803" y="482" width="2" height="2"/>
<rect x="812" y="482" width="3" height="2"/>
<rect x="819" y="482.9" width="2" height="9.7"/>
<rect x="819" y="499.9" width="2" height="9.7"/>
<rect x="814" y="495" width="3" height="2"/>
<rect x="824" y="495" width="2" height="2"/>
<rect x="830" y="481.6" width="2" height="10.2"/>
<rect x="830" y="499.0" width="2" height="10.2"/>
<rect x="825" y="494" width="3" height="2"/>
<rect x="835" y="494" width="3" height="2"/>
<rect x="841" y="491.0" width="2" height="9.9"/>
<rect x="841" y="508.0" width="2" height="9.9"/>
<rect x="837" y="503" width="2" height="2"/>
<rect x="846" y="503" width="3" height="2"/>
<rect x="853" y="493.4" width="2" height="10.4"/>
<rect x="853" y="511.0" width="2" height="10.4"/>
<rect x="848" y="506" width="3" height="2"/>
<rect x="858" y="506" width="3" height="2"/>
<rect x="864" y="494.9" width="2" height="9.9"/>
<rect x="864" y="512.0" width="2" height="9.9"/>
<rect x="859" y="507" width="3" height="2"/>
<rect x="869" y="507" width="3" height="2"/>
<rect x="876" y="495.4" width="2" height="9.4"/>
<rect x="876" y="512.0" width="2" height="9.4"/>
<rect x="871" y="507" width="3" height="2"/>
<rect x="881" y="507" width="2" height="2"/>
<rect x="887" y="475.3" width="2" height="10.3"/>
<rect x="887" y="492.8" width="2" height="10.3"/>
<rect x="882" y="488" width="3" height="2"/>
<rect x="892" y="488" width="3" height="2"/>
<rect x="898" y="491.6" width="2" height="10.2"/>
<rect x="898" y="509.0" width="2" height="10.2"/>
<rect x="894" y="504" width="2" height="2"/>
<rect x="903" y="504" width="3" height="2"/>
<rect x="910" y="494.8" width="2" height="10.0"/>
<rect x="910" y="512.0" width="2" height="10.0"/>
<rect x="905" y="507" width="3" height="2"/>
<rect x="915" y="507" width="3" height="2"/>
<rect x="921" y="492.4" width="2" height="9.4"/>
<rect x="921" y="509.0" width="2" height="9.4"/>
<rect x="916" y="504" width="3" height="2"/>
<rect x="926" y="504" width="3" height="2"/>
<rect x="933" y="480.7" width="2" height="10.3"/>
<rect x="933" y="498.1" width="2" height="10.3"/>
<rect x="928" y="493" width="3" height="2"/>
<rect x="938" y="493" width="2" height="2"/>
<rect x="944" y="500.5" width="2" height="9.3"/>
<rect x="944" y="517.0" width="2" height="9.3"/>
<rect x="939" y="512" width="3" height="2"/>
<rect x="949" y="512" width="3" height="2"/>
<rect x="955" y="497.7" width="2" height="9.2"/>
<rect x="955" y="514.1" width="2" height="9.2"/>
<rect x="951" y="509" width="2" height="2"/>
<rect x="960" y="509" width="3" height="2"/>
<rect x="967" y="500.7" width="2" height="9.1"/>
<rect x="967" y="517.0" width="2" height="9.1"/>
<rect x="962" y="512" width="3" height="2"/>
<rect x="972" y="512" width="2" height="2"/>
<rect x="978" y="501.3" width="2" height="9.4"/>
<rect x="978" y="518.0" width="2" height="9.4"/>
<rect x="973" y="513" width="3" height="2"/>
<rect x="983" y="513" width="3" height="2"/>
<rect x="989" y="485.8" width="2" height="9.9"/>
<rect x="989" y="502.8" width="2" height="9.9"/>
<rect x="985" y="498" width="2" height="2"/>
<rect x="994" y="498" width="3" height="2"/>
<rect x="1001" y="473.8" width="2" height="9.9"/>
<rect x="1001" y="490.9" width="2" height="9.9"/>
<rect x="996" y="486" width="3" height="2"/>
<rect x="1006" y="486" width="3" height="2"/>
<rect x="1012" y="488.0" width="2" height="9.8"/>
<rect x="1012" y="504.9" width="2" height="9.8"/>
<rect x="1008" y="500" width="2" height="2"/>
<rect x="1017" y="500" width="3" height="2"/>
<rect x="1024" y="463.9" width="2" height="10.6"/>
<rect x="1024" y="481.8" width="2" height="10.6"/>
<rect x="1019" y="477" width="3" height="2"/>
<rect x="1029" y="477" width="2" height="2"/>
<rect x="1035" y="449.7" width="2" height="11.0"/>
<rect x="1035" y="467.9" width="2" height="11.0"/>
<rect x="1030" y="463" width="3" height="2"/>
<rect x="1040" y="463" width="3" height="2"/>
<rect x="1046" y="459.5" width="2" height="11.2"/>
<rect x="1046" y="477.9" width="2" height="11.2"/>
<rect x="1042" y="473" width="2" height="2"/>
<rect x="1051" y="473" width="3" height="2"/>
<rect x="1058" y="500.5" width="2" height="9.3"/>
<rect x="1058" y="517.0" width="2" height="9.3"/>
<rect x="1053" y="512" width="3" height="2"/>
<rect x="1063" y="512" width="3" height="2"/>
<rect x="1069" y="598.9" width="2" height="5.2"/>
<rect x="1069" y="611.3" width="2" height="5.2"/>
<rect x="1065" y="606" width="2" height="2"/>
<rect x="1074" y="606" width="3" height="2"/>
</g>
<g shape-rendering="crispEdges" stroke="#000" stroke-width="1" fill="none">
<rect x="120.5" y="624.5" width="9" height="9"/>
<rect x="131.5" y="549.5" width="9" height="9"/>
<rect x="143.5" y="481.5" width="9" height="9"/>
<rect x="154.5" y="432.5" width="9" height="9"/>
<rect x="165.5" y="428.5" width="9" height="9"/>
<rect x="177.5" y="459.5" width="9" height="9"/>
<rect x="188.5" y="449.5" width="9" height="9"/>
<rect x="200.5" y="464.5" width="9" height="9"/>
<rect x="211.5" y="462.5" width="9" height="9"/>
<rect x="222.5" y="462.5" width="9" height="9"/>
<rect x="234.5" y="468.5" width="9" height="9"/>
<rect x="245.5" y="471.5" width="9" height="9"/>
<rect x="256.5" y="467.5" width="9" height="9"/>
<rect x="268.5" y="457.5" width="9" height="9"/>
<rect x="279.5" y="455.5" width="9" height="9"/>
<rect x="291.5" y="459.5" width="9" height="9"/>
<rect x="302.5" y="465.5" width="9" height="9"/>
<rect x="313.5" y="479.5" width="9" height="9"/>
<rect x="325.5" y="468.5" width="9" height="9"/>
<rect x="336.5" y="460.5" width="9" height="9"/>
<rect x="348.5" y="470.5" width="9" height="9"/>
<rect x="359.5" y="479.5" width="9" height="9"/>
<rect x="370.5" y="479.5" width="9" height="9"/>
<rect x="382.5" y="468.5" width="9" height="9"/>
<rect x="393.5" y="467.5" width="9" height="9"/>
<rect x="405.5" y="446.5" width="9" height="9"/>
<rect x="416.5" y="432.5" width="9" height="9"/>
<rect x="427.5" y="414.5" width="9" height="9"/>
<rect x="439.5" y="396.5" width="9" height="9"/>
<rect x="450.5" y="377.5" width="9" height="9"/>
<rect x="462.5" y="350.5" width="9" height="9"/>
<rect x="473.5" y="323.5" width="9" height="9"/>
<rect x="484.5" y="313.5" width="9" height="9"/>
<rect x="496.5" y="300.5" width="9" height="9"/>
<rect x="507.5" y="300.5" width="9" height="9"/>
<rect x="518.5" y="287.5" width="9" height="9"/>
<rect x="530.5" y="283.5" width="9" height="9"/>
<rect x="541.5" y="279.5" width="9" height="9"/>
<rect x="553.5" y="296.5" width="9" height="9"/>
<rect x="564.5" y="303.5" width="9" height="9"/>
<rect x="575.5" y="332.5" width="9" height="9"/>
<rect x="587.5" y="360.5" width="9" height="9"/>
<rect x="598.5" y="416.5" width="9" height="9"/>
<rect x="610.5" y="347.5" width="9" height="9"/>
<rect x="621.5" y="322.5" width="9" height="9"/>
<rect x="632.5" y="296.5" width="9" height="9"/>
<rect x="644.5" y="286.5" width="9" height="9"/>
<rect x="655.5" y="279.5" width="9" height="9"/>
<rect x="667.5" y="291.5" width="9" height="9"/>
<rect x="678.5" y="282.5" width="9" height="9"/>
<rect x="689.5" y="285.5" width="9" height="9"/>
<rect x="701.5" y="297.5" width="9" height="9"/>
<rect x="712.5" y="332.5" width="9" height="9"/>
<rect x="723.5" y="340.5" width="9" height="9"/>
<rect x="735.5" y="368.5" width="9" height="9"/>
<rect x="746.5" y="381.5" width="9" height="9"/>
<rect x="758.5" y="413.5" width="9" height="9"/>
<rect x="769.5" y="437.5" width="9" height="9"/>
<rect x="780.5" y="455.5" width="9" height="9"/>
<rect x="792.5" y="461.5" width="9" height="9"/>
<rect x="803.5" y="478.5" width="9" height="9"/>
<rect x="815.5" y="491.5" width="9" height="9"/>
<rect x="826.5" y="490.5" width="9" height="9"/>
<rect x="837.5" y="499.5" width="9" height="9"/>
<rect x="849.5" y="502.5" width="9" height="9"/>
<rect x="860.5" y="503.5" width="9" height="9"/>
<rect x="872.5" y="503.5" width="9" height="9"/>
<rect x="883.5" y="484.5" width="9" height="9"/>
<rect x="894.5" y="500.5" width="9" height="9"/>
<rect x="906.5" y="503.5" width="9" height="9"/>
<rect x="917.5" y="500.5" width="9" height="9"/>
<rect x="929.5" y="489.5" width="9" height="9"/>
<rect x="940.5" y="508.5" width="9" height="9"/>
<rect x="951.5" y="505.5" width="9" height="9"/>
<rect x="963.5" y="508.5" width="9" height="9"/>
<rect x="974.5" y="509.5" width="9" height="9"/>
<rect x="985.5" y="494.5" width="9" height="9"/>
<rect x="997.5" y="482.5" width="9" height="9"/>
<rect x="1008.5" y="496.5" width="9" height="9"/>
<rect x="1020.5" y="473.5" width="9" height="9"/>
<rect x="1031.5" y="459.5" width="9" height="9"/>
<rect x="1042.5" y="469.5" width="9" height="9"/>
<rect x="1054.5" y="508.5" width="9" height="9"/>
<rect x="1065.5" y="602.5" width="9" height="9"/>
</g>
<g shape-rendering="crispEdges" fill="#33ccff">
<rect x="124" y="597.7" width="2" height="5.5"/>
<rect x="124" y="610.4" width="2" height="5.5"/>
<rect x="119" y="606" width="3" height="2"/>
<rect x="129" y="606" width="3" height="2"/>
<rect x="135" y="541.0" width="2" height="8.6"/>
<rect x="135" y="556.8" width="2" height="8.6"/>
<rect x="130" y="552" width="3" height="2"/>
<rect x="140" y="552" width="3" height="2"/>
<rect x="147" y="478.6" width="2" height="10.8"/>
<rect x="147" y="496.6" width="2" height="10.8"/>
<rect x="142" y="492" width="3" height="2"/>
<rect x="152" y="492" width="2" height="2"/>
<rect x="158" y="434.4" width="2" height="13.0"/>
<rect x="158" y="454.6" width="2" height="13.0"/>
<rect x="153" y="450" width="3" height="2"/>
<rect x="163" y="450" width="3" height="2"/>
<rect x="169" y="431.6" width="2" height="12.8"/>
<rect x="169" y="451.7" width="2" height="12.8"/>
<rect x="165" y="447" width="2" height="2"/>
<rect x="174" y="447" width="3" height="2"/>
<rect x="181" y="468.7" width="2" height="11.3"/>
<rect x="181" y="487.2" width="2" height="11.3"/>
<rect x="176" y="482" width="3" height="2"/>
<rect x="186" y="482" width="3" height="2"/>
<rect x="192" y="456.9" width="2" height="10.7"/>
<rect x="192" y="474.7" width="2" height="10.7"/>
<rect x="187" y="470" width="3" height="2"/>
<rect x="197" y="470" width="3" height="2"/>
<rect x="204" y="475.9" width="2" height="11.3"/>
<rect x="204" y="494.4" width="2" height="11.3"/>
<rect x="199" y="490" width="3" height="2"/>
<rect x="209" y="490" width="2" height="2"/>
<rect x="215" y="474.2" width="2" height="10.1"/>
<rect x="215" y="491.5" width="2" height="10.1"/>
<rect x="210" y="487" width="3" height="2"/>
<rect x="220" y="487" width="3" height="2"/>
<rect x="226" y="467.6" width="2" height="11.4"/>
<rect x="226" y="486.2" width="2" height="11.4"/>
<rect x="222" y="481" width="2" height="2"/>
<rect x="231" y="481" width="3" height="2"/>
<rect x="238" y="474.9" width="2" height="10.2"/>
<rect x="238" y="492.4" width="2" height="10.2"/>
<rect x="233" y="488" width="3" height="2"/>
<rect x="243" y="488" width="2" height="2"/>
<rect x="249" y="473.9" width="2" height="11.3"/>
<rect x="249" y="492.4" width="2" height="11.3"/>
<rect x="244" y="488" width="3" height="2"/>
<rect x="254" y="488" width="3" height="2"/>
<rect x="260" y="468.9" width="2" height="11.2"/>
<rect x="260" y="487.4" width="2" height="11.2"/>
<rect x="256" y="483" width="2" height="2"/>
<rect x="265" y="483" width="3" height="2"/>
<rect x="272" y="466.3" width="2" height="11.0"/>
<rect x="272" y="484.5" width="2" height="11.0"/>
<rect x="267" y="480" width="3" height="2"/>
<rect x="277" y="480" width="3" height="2"/>
<rect x="283" y="463.2" width="2" height="11.0"/>
<rect x="283" y="481.4" width="2" height="11.0"/>
<rect x="279" y="477" width="2" height="2"/>
<rect x="288" y="477" width="3" height="2"/>
<rect x="295" y="467.1" width="2" height="11.1"/>
<rect x="295" y="485.4" width="2" height="11.1"/>
<rect x="290" y="481" width="3" height="2"/>
<rect x="300" y="481" width="2" height="2"/>
<rect x="306" y="469.0" width="2" height="11.2"/>
<rect x="306" y="487.4" width="2" height="11.2"/>
<rect x="301" y="483" width="3" height="2"/>
<rect x="311" y="483" width="3" height="2"/>
<rect x="317" y="484.3" width="2" height="11.1"/>
<rect x="317" y="502.6" width="2" height="11.1"/>
<rect x="313" y="498" width="2" height="2"/>
<rect x="322" y="498" width="3" height="2"/>
<rect x="329" y="474.9" width="2" height="11.3"/>
<rect x="329" y="493.4" width="2" height="11.3"/>
<rect x="324" y="489" width="3" height="2"/>
<rect x="334" y="489" width="3" height="2"/>
<rect x="340" y="461.2" width="2" height="12.0"/>
<rect x="340" y="480.4" width="2" height="12.0"/>
<rect x="336" y="476" width="2" height="2"/>
<rect x="345" y="476" width="3" height="2"/>
<rect x="352" y="480.2" width="2" height="10.1"/>
<rect x="352" y="497.5" width="2" height="10.1"/>
<rect x="347" y="493" width="3" height="2"/>
<rect x="357" y="493" width="2" height="2"/>
<rect x="363" y="490.1" width="2" height="10.2"/>
<rect x="363" y="507.6" width="2" height="10.2"/>
<rect x="358" y="503" width="3" height="2"/>
<rect x="368" y="503" width="3" height="2"/>
<rect x="374" y="491.4" width="2" height="11.0"/>
<rect x="374" y="509.6" width="2" height="11.0"/>
<rect x="370" y="505" width="2" height="2"/>
<rect x="379" y="505" width="3" height="2"/>
<rect x="386" y="480.0" width="2" height="11.2"/>
<rect x="386" y="498.5" width="2" height="11.2"/>
<rect x="381" y="494" width="3" height="2"/>
<rect x="391" y="494" width="3" height="2"/>
<rect x="397" y="483.4" width="2" height="10.0"/>
<rect x="397" y="500.6" width="2" height="10.0"/>
<rect x="392" y="496" width="3" height="2"/>
<rect x="402" y="496" width="3" height="2"/>
<rect x="409" y="453.9" width="2" height="12.3"/>
<rect x="409" y="473.4" width="2" height="12.3"/>
<rect x="404" y="469" width="3" height="2"/>
<rect x="414" y="469" width="2" height="2"/>
<rect x="420" y="441.9" width="2" height="12.3"/>
<rect x="420" y="461.4" width="2" height="12.3"/>
<rect x="415" y="457" width="3" height="2"/>
<rect x="425" y="457" width="3" height="2"/>
<rect x="431" y="432.5" width="2" height="12.0"/>
<rect x="431" y="451.7" width="2" height="12.0"/>
<rect x="427" y="447" width="2" height="2"/>
<rect x="436" y="447" width="3" height="2"/>
<rect x="443" y="405.5" width="2" height="13.8"/>
<rect x="443" y="426.5" width="2" height="13.8"/>
<rect x="438" y="422" width="3" height="2"/>
<rect x="448" y="422" width="3" height="2"/>
<rect x="454" y="393.0" width="2" height="14.1"/>
<rect x="454" y="414.4" width="2" height="14.1"/>
<rect x="449" y="410" width="3" height="2"/>
<rect x="459" y="410" width="3" height="2"/>
<rect x="466" y="368.4" width="2" height="14.8"/>
<rect x="466" y="390.4" width="2" height="14.8"/>
<rect x="461" y="386" width="3" height="2"/>
<rect x="471" y="386" width="2" height="2"/>
<rect x="477" y="340.9" width="2" height="16.1"/>
<rect x="477" y="364.2" width="2" height="16.1"/>
<rect x="472" y="359" width="3" height="2"/>
<rect x="482" y="359" width="3" height="2"/>
<rect x="488" y="330.8" width="2" height="17.1"/>
<rect x="488" y="355.1" width="2" height="17.1"/>
<rect x="484" y="350" width="2" height="2"/>
<rect x="493" y="350" width="3" height="2"/>
<rect x="500" y="319.8" width="2" height="17.1"/>
<rect x="500" y="344.1" width="2" height="17.1"/>
<rect x="495" y="339" width="3" height="2"/>
<rect x="505" y="339" width="2" height="2"/>
<rect x="511" y="319.8" width="2" height="17.1"/>
<rect x="511" y="344.1" width="2" height="17.1"/>
<rect x="506" y="339" width="3" height="2"/>
<rect x="516" y="339" width="3" height="2"/>
<rect x="522" y="308.5" width="2" height="17.2"/>
<rect x="522" y="332.9" width="2" height="17.2"/>
<rect x="518" y="328" width="2" height="2"/>
<rect x="527" y="328" width="3" height="2"/>
<rect x="534" y="305.5" width="2" height="18.2"/>
<rect x="534" y="330.9" width="2" height="18.2"/>
<rect x="529" y="326" width="3" height="2"/>
<rect x="539" y="326" width="3" height="2"/>
<rect x="545" y="315.5" width="2" height="17.1"/>
<rect x="545" y="339.8" width="2" height="17.1"/>
<rect x="541" y="335" width="2" height="2"/>
<rect x="550" y="335" width="3" height="2"/>
<rect x="557" y="350.7" width="2" height="16.2"/>
<rect x="557" y="374.1" width="2" height="16.2"/>
<rect x="552" y="369" width="3" height="2"/>
<rect x="562" y="369" width="2" height="2"/>
<rect x="568" y="387.5" width="2" height="15.2"/>
<rect x="568" y="409.9" width="2" height="15.2"/>
<rect x="563" y="405" width="3" height="2"/>
<rect x="573" y="405" width="3" height="2"/>
<rect x="579" y="458.8" width="2" height="12.3"/>
<rect x="579" y="478.3" width="2" height="12.3"/>
<rect x="575" y="473" width="2" height="2"/>
<rect x="584" y="473" width="3" height="2"/>
<rect x="591" y="546.1" width="2" height="8.4"/>
<rect x="591" y="561.7" width="2" height="8.4"/>
<rect x="586" y="557" width="3" height="2"/>
<rect x="596" y="557" width="3" height="2"/>
<rect x="598" y="684" width="2" height="2"/>
<rect x="607" y="684" width="3" height="2"/>
<rect x="614" y="544.4" width="2" height="9.2"/>
<rect x="614" y="560.8" width="2" height="9.2"/>
<rect x="609" y="556" width="3" height="2"/>
<rect x="619" y="556" width="2" height="2"/>
<rect x="625" y="459.1" width="2" height="13.0"/>
<rect x="625" y="479.3" width="2" height="13.0"/>
<rect x="620" y="474" width="3" height="2"/>
<rect x="630" y="474" width="3" height="2"/>
<rect x="636" y="382.6" width="2" height="14.9"/>
<rect x="636" y="404.6" width="2" height="14.9"/>
<rect x="632" y="400" width="2" height="2"/>
<rect x="641" y="400" width="3" height="2"/>
<rect x="648" y="346.3" width="2" height="16.3"/>
<rect x="648" y="369.8" width="2" height="16.3"/>
<rect x="643" y="365" width="3" height="2"/>
<rect x="653" y="365" width="3" height="2"/>
<rect x="659" y="319.5" width="2" height="17.3"/>
<rect x="659" y="343.9" width="2" height="17.3"/>
<rect x="654" y="339" width="3" height="2"/>
<rect x="664" y="339" width="3" height="2"/>
<rect x="671" y="318.6" width="2" height="17.3"/>
<rect x="671" y="343.0" width="2" height="17.3"/>
<rect x="666" y="338" width="3" height="2"/>
<rect x="676" y="338" width="2" height="2"/>
<rect x="682" y="305.7" width="2" height="18.1"/>
<rect x="682" y="331.0" width="2" height="18.1"/>
<rect x="677" y="326" width="3" height="2"/>
<rect x="687" y="326" width="3" height="2"/>
<rect x="693" y="298.1" width="2" height="18.4"/>
<rect x="693" y="323.7" width="2" height="18.4"/>
<rect x="689" y="319" width="2" height="2"/>
<rect x="698" y="319" width="3" height="2"/>
<rect x="705" y="309.3" width="2" height="18.3"/>
<rect x="705" y="334.9" width="2" height="18.3"/>
<rect x="700" y="330" width="3" height="2"/>
<rect x="710" y="330" width="3" height="2"/>
<rect x="716" y="343.8" width="2" height="16.1"/>
<rect x="716" y="367.1" width="2" height="16.1"/>
<rect x="711" y="362" width="3" height="2"/>
<rect x="721" y="362" width="3" height="2"/>
<rect x="727" y="357.7" width="2" height="16.2"/>
<rect x="727" y="381.1" width="2" height="16.2"/>
<rect x="723" y="376" width="2" height="2"/>
<rect x="732" y="376" width="3" height="2"/>
<rect x="739" y="380.3" width="2" height="13.8"/>
<rect x="739" y="401.3" width="2" height="13.8"/>
<rect x="734" y="396" width="3" height="2"/>
<rect x="744" y="396" width="3" height="2"/>
<rect x="750" y="392.4" width="2" height="14.1"/>
<rect x="750" y="413.7" width="2" height="14.1"/>
<rect x="746" y="409" width="2" height="2"/>
<rect x="755" y="409" width="3" height="2"/>
<rect x="762" y="424.1" width="2" height="13.0"/>
<rect x="762" y="444.2" width="2" height="13.0"/>
<rect x="757" y="439" width="3" height="2"/>
<rect x="767" y="439" width="2" height="2"/>
<rect x="773" y="454.2" width="2" height="11.0"/>
<rect x="773" y="472.4" width="2" height="11.0"/>
<rect x="768" y="468" width="3" height="2"/>
<rect x="778" y="468" width="3" height="2"/>
<rect x="784" y="466.6" width="2" height="10.8"/>
<rect x="784" y="484.6" width="2" height="10.8"/>
<rect x="780" y="480" width="2" height="2"/>
<rect x="789" y="480" width="3" height="2"/>
<rect x="796" y="471.5" width="2" height="11.0"/>
<rect x="796" y="489.8" width="2" height="11.0"/>
<rect x="791" y="485" width="3" height="2"/>
<rect x="801" y="485" width="3" height="2"/>
<rect x="807" y="491.2" width="2" height="10.0"/>
<rect x="807" y="508.5" width="2" height="10.0"/>
<rect x="803" y="504" width="2" height="2"/>
<rect x="812" y="504" width="3" height="2"/>
<rect x="819" y="501.1" width="2" height="9.2"/>
<rect x="819" y="517.5" width="2" height="9.2"/>
<rect x="814" y="513" width="3" height="2"/>
<rect x="824" y="513" width="2" height="2"/>
<rect x="830" y="497.3" width="2" height="10.1"/>
<rect x="830" y="514.6" width="2" height="10.1"/>
<rect x="825" y="510" width="3" height="2"/>
<rect x="835" y="510" width="3" height="2"/>
<rect x="841" y="510.3" width="2" height="9.2"/>
<rect x="841" y="526.7" width="2" height="9.2"/>
<rect x="837" y="522" width="2" height="2"/>
<rect x="846" y="522" width="3" height="2"/>
<rect x="853" y="504.4" width="2" height="10.1"/>
<rect x="853" y="521.7" width="2" height="10.1"/>
<rect x="848" y="517" width="3" height="2"/>
<rect x="858" y="517" width="3" height="2"/>
<rect x="864" y="509.7" width="2" height="9.0"/>
<rect x="864" y="525.9" width="2" height="9.0"/>
<rect x="859" y="521" width="3" height="2"/>
<rect x="869" y="521" width="3" height="2"/>
<rect x="876" y="510.3" width="2" height="9.2"/>
<rect x="876" y="526.7" width="2" height="9.2"/>
<rect x="871" y="522" width="3" height="2"/>
<rect x="881" y="522" width="2" height="2"/>
<rect x="887" y="496.2" width="2" height="10.2"/>
<rect x="887" y="513.6" width="2" height="10.2"/>
<rect x="882" y="509" width="3" height="2"/>
<rect x="892" y="509" width="3" height="2"/>
<rect x="898" y="512.2" width="2" height="10.2"/>
<rect x="898" y="529.6" width="2" height="10.2"/>
<rect x="894" y="525" width="2" height="2"/>
<rect x="903" y="525" width="3" height="2"/>
<rect x="910" y="515.3" width="2" height="9.2"/>
<rect x="910" y="531.8" width="2" height="9.2"/>
<rect x="905" y="527" width="3" height="2"/>
<rect x="915" y="527" width="3" height="2"/>
<rect x="921" y="509.1" width="2" height="9.3"/>
<rect x="921" y="525.6" width="2" height="9.3"/>
<rect x="916" y="521" width="3" height="2"/>
<rect x="926" y="521" width="3" height="2"/>
<rect x="933" y="499.2" width="2" height="10.2"/>
<rect x="933" y="516.7" width="2" height="10.2"/>
<rect x="928" y="512" width="3" height="2"/>
<rect x="938" y="512" width="2" height="2"/>
<rect x="944" y="516.7" width="2" height="9.0"/>
<rect x="944" y="532.8" width="2" height="9.0"/>
<rect x="939" y="528" width="3" height="2"/>
<rect x="949" y="528" width="3" height="2"/>
<rect x="955" y="521.5" width="2" height="9.1"/>
<rect x="955" y="537.8" width="2" height="9.1"/>
<rect x="951" y="533" width="2" height="2"/>
<rect x="960" y="533" width="3" height="2"/>
<rect x="967" y="518.1" width="2" height="9.3"/>
<rect x="967" y="534.6" width="2" height="9.3"/>
<rect x="962" y="530" width="3" height="2"/>
<rect x="972" y="530" width="2" height="2"/>
<rect x="978" y="524.0" width="2" height="8.7"/>
<rect x="978" y="539.9" width="2" height="8.7"/>
<rect x="973" y="535" width="3" height="2"/>
<rect x="983" y="535" width="3" height="2"/>
<rect x="989" y="511.1" width="2" height="9.3"/>
<rect x="989" y="527.6" width="2" height="9.3"/>
<rect x="985" y="523" width="2" height="2"/>
<rect x="994" y="523" width="3" height="2"/>
<rect x="1001" y="501.0" width="2" height="9.3"/>
<rect x="1001" y="517.5" width="2" height="9.3"/>
<rect x="996" y="513" width="3" height="2"/>
<rect x="1006" y="513" width="3" height="2"/>
<rect x="1012" y="512.5" width="2" height="9.1"/>
<rect x="1012" y="528.7" width="2" height="9.1"/>
<rect x="1008" y="524" width="2" height="2"/>
<rect x="1017" y="524" width="3" height="2"/>
<rect x="1024" y="489.2" width="2" height="10.1"/>
<rect x="1024" y="506.5" width="2" height="10.1"/>
<rect x="1019" y="502" width="3" height="2"/>
<rect x="1029" y="502" width="2" height="2"/>
<rect x="1035" y="462.2" width="2" height="11.0"/>
<rect x="1035" y="480.5" width="2" height="11.0"/>
<rect x="1030" y="476" width="3" height="2"/>
<rect x="1040" y="476" width="3" height="2"/>
<rect x="1046" y="473.3" width="2" height="11.0"/>
<rect x="1046" y="491.5" width="2" height="11.0"/>
<rect x="1042" y="487" width="2" height="2"/>
<rect x="1051" y="487" width="3" height="2"/>
<rect x="1058" y="504.1" width="2" height="9.2"/>
<rect x="1058" y="520.6" width="2" height="9.2"/>
<rect x="1053" y="516" width="3" height="2"/>
<rect x="1063" y="516" width="3" height="2"/>
<rect x="1069" y="588.2" width="2" height="5.2"/>
<rect x="1069" y="600.6" width="2" height="5.2"/>
<rect x="1065" y="596" width="2" height="2"/>
<rect x="1074" y="596" width="3" height="2"/>
</g>
<g fill="#000">
<path d="M121.4 610L129.6 610L125.5 601.6Z"/>
<path d="M132.4 557L140.6 557L136.5 548.6Z"/>
<path d="M144.4 497L152.6 497L148.5 488.6Z"/>
<path d="M155.4 455L163.6 455L159.5 446.6Z"/>
<path d="M166.4 452L174.6 452L170.5 443.6Z"/>
<path d="M178.4 487L186.6 487L182.5 478.6Z"/>
<path d="M189.4 475L197.6 475L193.5 466.6Z"/>
<path d="M201.4 494L209.6 494L205.5 485.6Z"/>
<path d="M212.4 491L220.6 491L216.5 482.6Z"/>
<path d="M223.4 486L231.6 486L227.5 477.6Z"/>
<path d="M235.4 492L243.6 492L239.5 483.6Z"/>
<path d="M246.4 492L254.6 492L250.5 483.6Z"/>
<path d="M257.4 487L265.6 487L261.5 478.6Z"/>
<path d="M269.4 484L277.6 484L273.5 475.6Z"/>
<path d="M280.4 481L288.6 481L284.5 472.6Z"/>
<path d="M292.4 485L300.6 485L296.5 476.6Z"/>
<path d="M303.4 487L311.6 487L307.5 478.6Z"/>
<path d="M314.4 503L322.6 503L318.5 494.6Z"/>
<path d="M326.4 493L334.6 493L330.5 484.6Z"/>
<path d="M337.4 480L345.6 480L341.5 471.6Z"/>
<path d="M349.4 498L357.6 498L353.5 489.6Z"/>
<path d="M360.4 508L368.6 508L364.5 499.6Z"/>
<path d="M371.4 510L379.6 510L375.5 501.6Z"/>
<path d="M383.4 498L391.6 498L387.5 489.6Z"/>
<path d="M394.4 501L402.6 501L398.5 492.6Z"/>
<path d="M406.4 473L414.6 473L410.5 464.6Z"/>
<path d="M417.4 461L425.6 461L421.5 452.6Z"/>
<path d="M428.4 452L436.6 452L432.5 443.6Z"/>
<path d="M440.4 427L448.6 427L444.5 418.6Z"/>
<path d="M451.4 414L459.6 414L455.5 405.6Z"/>
<path d="M463.4 390L471.6 390L467.5 381.6Z"/>
<path d="M474.4 364L482.6 364L478.5 355.6Z"/>
<path d="M485.4 355L493.6 355L489.5 346.6Z"/>
<path d="M497.4 344L505.6 344L501.5 335.6Z"/>
<path d="M508.4 344L516.6 344L512.5 335.6Z"/>
<path d="M519.4 333L527.6 333L523.5 324.6Z"/>
<path d="M531.4 331L539.6 331L535.5 322.6Z"/>
<path d="M542.4 340L550.6 340L546.5 331.6Z"/>
<path d="M554.4 374L562.6 374L558.5 365.6Z"/>
<path d="M565.4 410L573.6 410L569.5 401.6Z"/>
<path d="M576.4 478L584.6 478L580.5 469.6Z"/>
<path d="M588.4 562L596.6 562L592.5 553.6Z"/>
<path d="M599.4 689L607.6 689L603.5 680.6Z"/>
<path d="M611.4 561L619.6 561L615.5 552.6Z"/>
<path d="M622.4 479L630.6 479L626.5 470.6Z"/>
<path d="M633.4 405L641.6 405L637.5 396.6Z"/>
<path d="M645.4 370L653.6 370L649.5 361.6Z"/>
<path d="M656.4 344L664.6 344L660.5 335.6Z"/>
<path d="M668.4 343L676.6 343L672.5 334.6Z"/>
<path d="M679.4 331L687.6 331L683.5 322.6Z"/>
<path d="M690.4 324L698.6 324L694.5 315.6Z"/>
<path d="M702.4 335L710.6 335L706.5 326.6Z"/>
<path d="M713.4 367L721.6 367L717.5 358.6Z"/>
<path d="M724.4 381L732.6 381L728.5 372.6Z"/>
<path d="M736.4 401L744.6 401L740.5 392.6Z"/>
<path d="M747.4 414L755.6 414L751.5 405.6Z"/>
<path d="M759.4 444L767.6 444L763.5 435.6Z"/>
<path d="M770.4 472L778.6 472L774.5 463.6Z"/>
<path d="M781.4 485L789.6 485L785.5 476.6Z"/>
<path d="M793.4 490L801.6 490L797.5 481.6Z"/>
<path d="M804.4 508L812.6 508L808.5 499.6Z"/>
<path d="M816.4 518L824.6 518L820.5 509.6Z"/>
<path d="M827.4 515L835.6 515L831.5 506.6Z"/>
<path d="M838.4 527L846.6 527L842.5 518.6Z"/>
<path d="M850.4 522L858.6 522L854.5 513.6Z"/>
<path d="M861.4 526L869.6 526L865.5 517.6Z"/>
<path d="M873.4 527L881.6 527L877.5 518.6Z"/>
<path d="M884.4 514L892.6 514L888.5 505.6Z"/>
<path d="M895.4 530L903.6 530L899.5 521.6Z"/>
<path d="M907.4 532L915.6 532L911.5 523.6Z"/>
<path d="M918.4 526L926.6 526L922.5 517.6Z"/>
<path d="M930.4 517L938.6 517L934.5 508.6Z"/>
<path d="M941.4 533L949.6 533L945.5 524.6Z"/>
<path d="M952.4 538L960.6 538L956.5 529.6Z"/>
<path d="M964.4 535L972.6 535L968.5 526.6Z"/>
<path d="M975.4 540L983.6 540L979.5 531.6Z"/>
<path d="M986.4 528L994.6 528L990.5 519.6Z"/>
<path d="M998.4 517L1006.6 517L1002.5 508.6Z"/>
<path d="M1009.4 529L1017.6 529L1013.5 520.6Z"/>
<path d="M1021.4 507L1029.6 507L1025.5 498.6Z"/>
<path d="M1032.4 480L1040.6 480L1036.5 471.6Z"/>
<path d="M1043.4 491L1051.6 491L1047.5 482.6Z"/>
<path d="M1055.4 521L1063.6 521L1059.5 512.6Z"/>
<path d="M1066.4 601L1074.6 601L1070.5 592.6Z"/>
</g>
</g>
<g shape-rendering="crispEdges">
<rect x="65" y="21" width="1075" height="137" fill="#000"/>
<rect x="59.5" y="15.5" width="1077" height="139" fill="#fff" stroke="#000" stroke-width="1"/>
</g>
<text transform="translate(112.7,63.8) scale(1,1.050)" font-size="35.3">Run 6121</text>
<text transform="translate(388.7,63.8) scale(1,1.050)" font-size="35.3">SL1L1</text>
<text transform="translate(112.6,129.8) scale(1,1.020)" font-size="36.4">HV = 3450 V, FEth = 30 mV, Source OFF</text>
<circle cx="156.6" cy="193.5" r="4.2" fill="#000" stroke="#000" stroke-width="1" stroke-opacity="0.6"/>
<rect x="419.5" y="188.5" width="9" height="9" fill="none" stroke="#000" stroke-width="1" shape-rendering="crispEdges"/>
<path d="M767.6 197.3L776.8 197.3L772.2 189.3Z" fill="#000" shape-rendering="crispEdges"/>
<text transform="translate(193.6,202.0) scale(1,1.050)" font-size="22.2" xml:space="preserve" style="white-space:pre">Mean hit  eff: 0.54</text>
<text transform="translate(460.2,202.0) scale(1,1.050)" font-size="22.2">Mean in-band hit eff: 0.52</text>
<text transform="translate(808.2,202.0) scale(1,1.050)" font-size="22.2">Mean reco eff: 0.45</text>
<text transform="translate(113.3,706.4) scale(1,1.060)" font-size="29" text-anchor="end">0</text>
<text transform="translate(113.3,655.4) scale(1,1.060)" font-size="29" text-anchor="end">0.1</text>
<text transform="translate(113.3,604.4) scale(1,1.060)" font-size="29" text-anchor="end">0.2</text>
<text transform="translate(113.3,553.4) scale(1,1.060)" font-size="29" text-anchor="end">0.3</text>
<text transform="translate(113.3,502.4) scale(1,1.060)" font-size="29" text-anchor="end">0.4</text>
<text transform="translate(113.3,451.4) scale(1,1.060)" font-size="29" text-anchor="end">0.5</text>
<text transform="translate(113.3,399.4) scale(1,1.060)" font-size="29" text-anchor="end">0.6</text>
<text transform="translate(113.3,348.4) scale(1,1.060)" font-size="29" text-anchor="end">0.7</text>
<text transform="translate(113.3,297.4) scale(1,1.060)" font-size="29" text-anchor="end">0.8</text>
<text transform="translate(113.3,246.4) scale(1,1.060)" font-size="29" text-anchor="end">0.9</text>
<text transform="translate(124.8,723.7) scale(1.14,0.85)" font-size="29">−</text>
<text transform="translate(142.4,722.8) scale(1,1.060)" font-size="29">2</text>
<text transform="translate(226.7,723.7) scale(1.14,0.85)" font-size="29">−</text>
<text transform="translate(244.3,722.8) scale(1,1.060)" font-size="29">1.5</text>
<text transform="translate(352.8,723.7) scale(1.14,0.85)" font-size="29">−</text>
<text transform="translate(370.4,722.8) scale(1,1.060)" font-size="29">1</text>
<text transform="translate(454.7,723.7) scale(1.14,0.85)" font-size="29">−</text>
<text transform="translate(472.3,722.8) scale(1,1.060)" font-size="29">0.5</text>
<text transform="translate(598.5,722.8) scale(1,1.060)" font-size="29" text-anchor="middle">0</text>
<text transform="translate(711.5,722.8) scale(1,1.060)" font-size="29" text-anchor="middle">0.5</text>
<text transform="translate(825.5,722.8) scale(1,1.060)" font-size="29" text-anchor="middle">1</text>
<text transform="translate(939.5,722.8) scale(1,1.060)" font-size="29" text-anchor="middle">1.5</text>
<text transform="translate(1053.5,722.8) scale(1,1.060)" font-size="29" text-anchor="middle">2</text>
<text transform="translate(1077.0,751.7) scale(1,1.030)" font-size="29.1" text-anchor="end">Position within the cell (cm)</text>
<text transform="translate(51.3,231.0) rotate(-90) scale(1,1.030)" font-size="29.2" text-anchor="end">Hit efficiency</text>
</svg></body></html>
